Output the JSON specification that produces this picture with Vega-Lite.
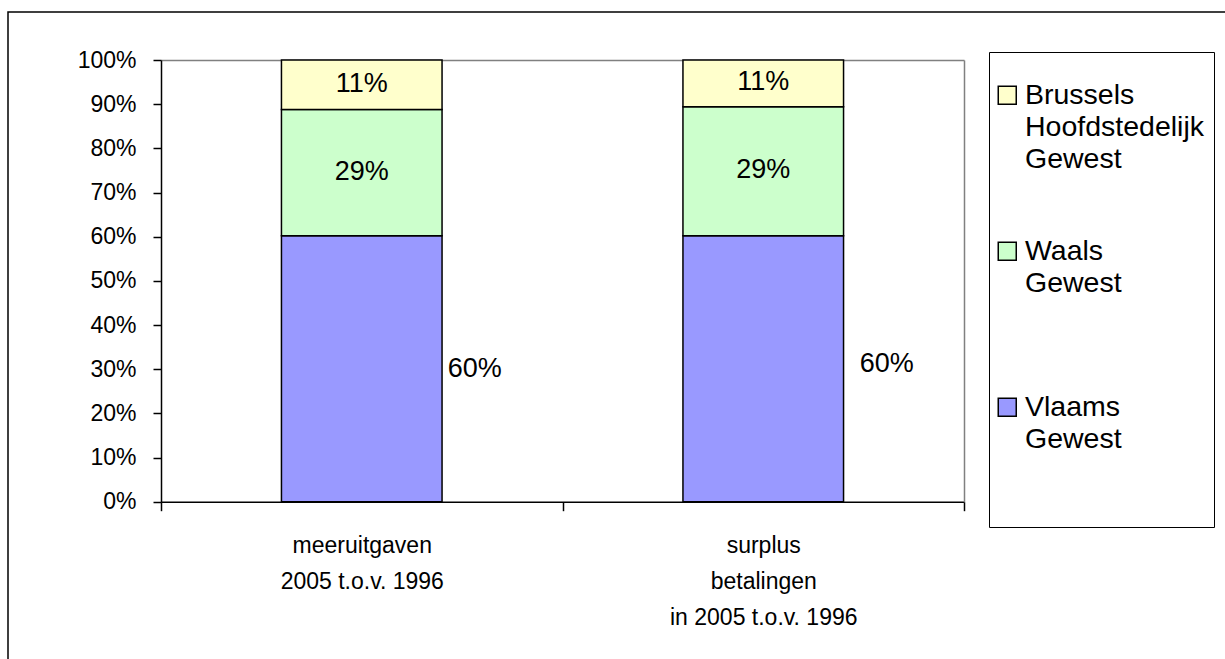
{
  "$schema": "https://vega.github.io/schema/vega-lite/v6.json",
  "width": 1219,
  "height": 649,
  "autosize": {"type": "none"},
  "padding": {"left": 8, "top": 12, "right": -2, "bottom": -2},
  "background": "white",
  "config": {
    "view": {"stroke": "black", "strokeWidth": 1.5},
    "font": "Liberation Sans",
    "style": {"guide-label": {"lineHeight": 32}}
  },
  "data": {
    "values": [
      {"cat": "meeruitgaven 2005 t.o.v. 1996", "region": "Vlaams Gewest", "value": 0.602},
      {"cat": "meeruitgaven 2005 t.o.v. 1996", "region": "Waals Gewest", "value": 0.286},
      {"cat": "meeruitgaven 2005 t.o.v. 1996", "region": "Brussels Hoofdstedelijk Gewest", "value": 0.112},
      {"cat": "surplus betalingen in 2005 t.o.v. 1996", "region": "Vlaams Gewest", "value": 0.602},
      {"cat": "surplus betalingen in 2005 t.o.v. 1996", "region": "Waals Gewest", "value": 0.292},
      {"cat": "surplus betalingen in 2005 t.o.v. 1996", "region": "Brussels Hoofdstedelijk Gewest", "value": 0.106}
    ]
  },
  "transform": [
    {"calculate": "indexof(['Vlaams Gewest','Waals Gewest','Brussels Hoofdstedelijk Gewest'], datum.region)", "as": "rank"},
    {"stack": "value", "groupby": ["cat"], "sort": [{"field": "rank", "order": "ascending"}], "as": ["lo", "hi"], "offset": "zero"},
    {"calculate": "(datum.lo + datum.hi) / 2", "as": "mid"}
  ],
  "layer": [
    {
      "mark": {"type": "bar", "stroke": "black", "strokeWidth": 1.5, "width": {"band": 0.4}},
      "encoding": {
        "x": {
          "field": "cat", "type": "nominal",
          "sort": ["meeruitgaven 2005 t.o.v. 1996", "surplus betalingen in 2005 t.o.v. 1996"],
          "scale": {"range": [153, 956], "paddingInner": 0, "paddingOuter": 0},
          "axis": {
            "orient": "bottom", "offset": -159.3, "title": null, "tickBand": "extent",
            "tickSize": 9, "tickColor": "black", "tickWidth": 1.5,
            "domainColor": "black", "domainWidth": 1.5,
            "labelAngle": 0, "labelFontSize": 23, "labelColor": "black", "labelPadding": 24,
            "labelLineHeight": 36, "labelFont": "Liberation Sans", "labelLimit": 400,
            "labelExpr": "datum.extra ? '' : datum.label == 'meeruitgaven 2005 t.o.v. 1996' ? ['meeruitgaven', '2005 t.o.v. 1996'] : ['surplus', 'betalingen', 'in 2005 t.o.v. 1996']"
          }
        },
        "y": {
          "field": "lo", "type": "quantitative",
          "scale": {"domain": [0, 1], "range": [489.7, 48], "nice": false},
          "axis": {
            "orient": "left", "offset": -153, "title": null, "grid": false,
            "values": [0, 0.1, 0.2, 0.3, 0.4, 0.5, 0.6, 0.7, 0.8, 0.9, 1],
            "format": ".0%", "tickSize": 8, "tickColor": "black", "tickWidth": 1.5,
            "domainColor": "black", "domainWidth": 1.5,
            "labelFontSize": 23, "labelColor": "black", "labelPadding": 17, "labelFont": "Liberation Sans"
          }
        },
        "y2": {"field": "hi"},
        "color": {
          "field": "region", "type": "nominal",
          "scale": {
            "domain": ["Brussels Hoofdstedelijk Gewest", "Waals Gewest", "Vlaams Gewest"],
            "range": ["#FFFFCC", "#CCFFCC", "#9999FF"]
          },
          "legend": {
            "orient": "none", "legendX": 981, "legendY": 40,
            "title": " ", "titleFontSize": 12, "titlePadding": 8,
            "strokeColor": "black", "padding": 9, "fillColor": "white",
            "symbolType": "square", "symbolSize": 324, "symbolStrokeColor": "black", "symbolStrokeWidth": 1.5, "symbolOpacity": 1,
            "symbolOffset": -5,
            "labelFontSize": 28.5, "labelFont": "Liberation Sans", "labelColor": "black",
            "labelBaseline": "middle", "labelOffset": 3.5, "labelLimit": 0, "rowPadding": 63,
            "labelExpr": "datum.label == 'Brussels Hoofdstedelijk Gewest' ? ['Brussels', 'Hoofdstedelijk', 'Gewest'] : datum.label == 'Waals Gewest' ? ['Waals', 'Gewest', ''] : ['Vlaams', 'Gewest', '', '']"
          }
        }
      }
    },
    {
      "transform": [{"filter": "datum.region != 'Vlaams Gewest'"}],
      "mark": {"type": "text", "fontSize": 27, "font": "Liberation Sans", "color": "black", "dy": -1, "align": "center", "baseline": "middle"},
      "encoding": {
        "x": {
          "field": "cat", "type": "nominal",
          "sort": ["meeruitgaven 2005 t.o.v. 1996", "surplus betalingen in 2005 t.o.v. 1996"],
          "axis": {"orient": "top", "offset": -48, "title": null, "ticks": false, "labels": false, "domainColor": "#808080", "domainWidth": 1.5}
        },
        "y": {
          "field": "mid", "type": "quantitative",
          "axis": {"orient": "right", "offset": -263, "title": null, "ticks": false, "labels": false, "grid": false, "domainColor": "#808080", "domainWidth": 1.5}
        },
        "text": {"field": "value", "type": "quantitative", "format": ".0%"}
      }
    },
    {
      "transform": [{"filter": "datum.region == 'Vlaams Gewest' && datum.cat == 'meeruitgaven 2005 t.o.v. 1996'"}],
      "mark": {"type": "text", "fontSize": 27, "font": "Liberation Sans", "color": "black", "dx": 86, "dy": 0, "align": "left", "baseline": "middle"},
      "encoding": {
        "x": {"field": "cat", "type": "nominal", "sort": ["meeruitgaven 2005 t.o.v. 1996", "surplus betalingen in 2005 t.o.v. 1996"], "axis": null},
        "y": {"field": "mid", "type": "quantitative", "axis": null},
        "text": {"field": "value", "type": "quantitative", "format": ".0%"}
      }
    },
    {
      "transform": [{"filter": "datum.region == 'Vlaams Gewest' && datum.cat == 'surplus betalingen in 2005 t.o.v. 1996'"}],
      "mark": {"type": "text", "fontSize": 27, "font": "Liberation Sans", "color": "black", "dx": 96.5, "dy": -5, "align": "left", "baseline": "middle"},
      "encoding": {
        "x": {"field": "cat", "type": "nominal", "sort": ["meeruitgaven 2005 t.o.v. 1996", "surplus betalingen in 2005 t.o.v. 1996"], "axis": null},
        "y": {"field": "mid", "type": "quantitative", "axis": null},
        "text": {"field": "value", "type": "quantitative", "format": ".0%"}
      }
    }
  ],
  "resolve": {"axis": {"x": "independent", "y": "independent"}}
}
